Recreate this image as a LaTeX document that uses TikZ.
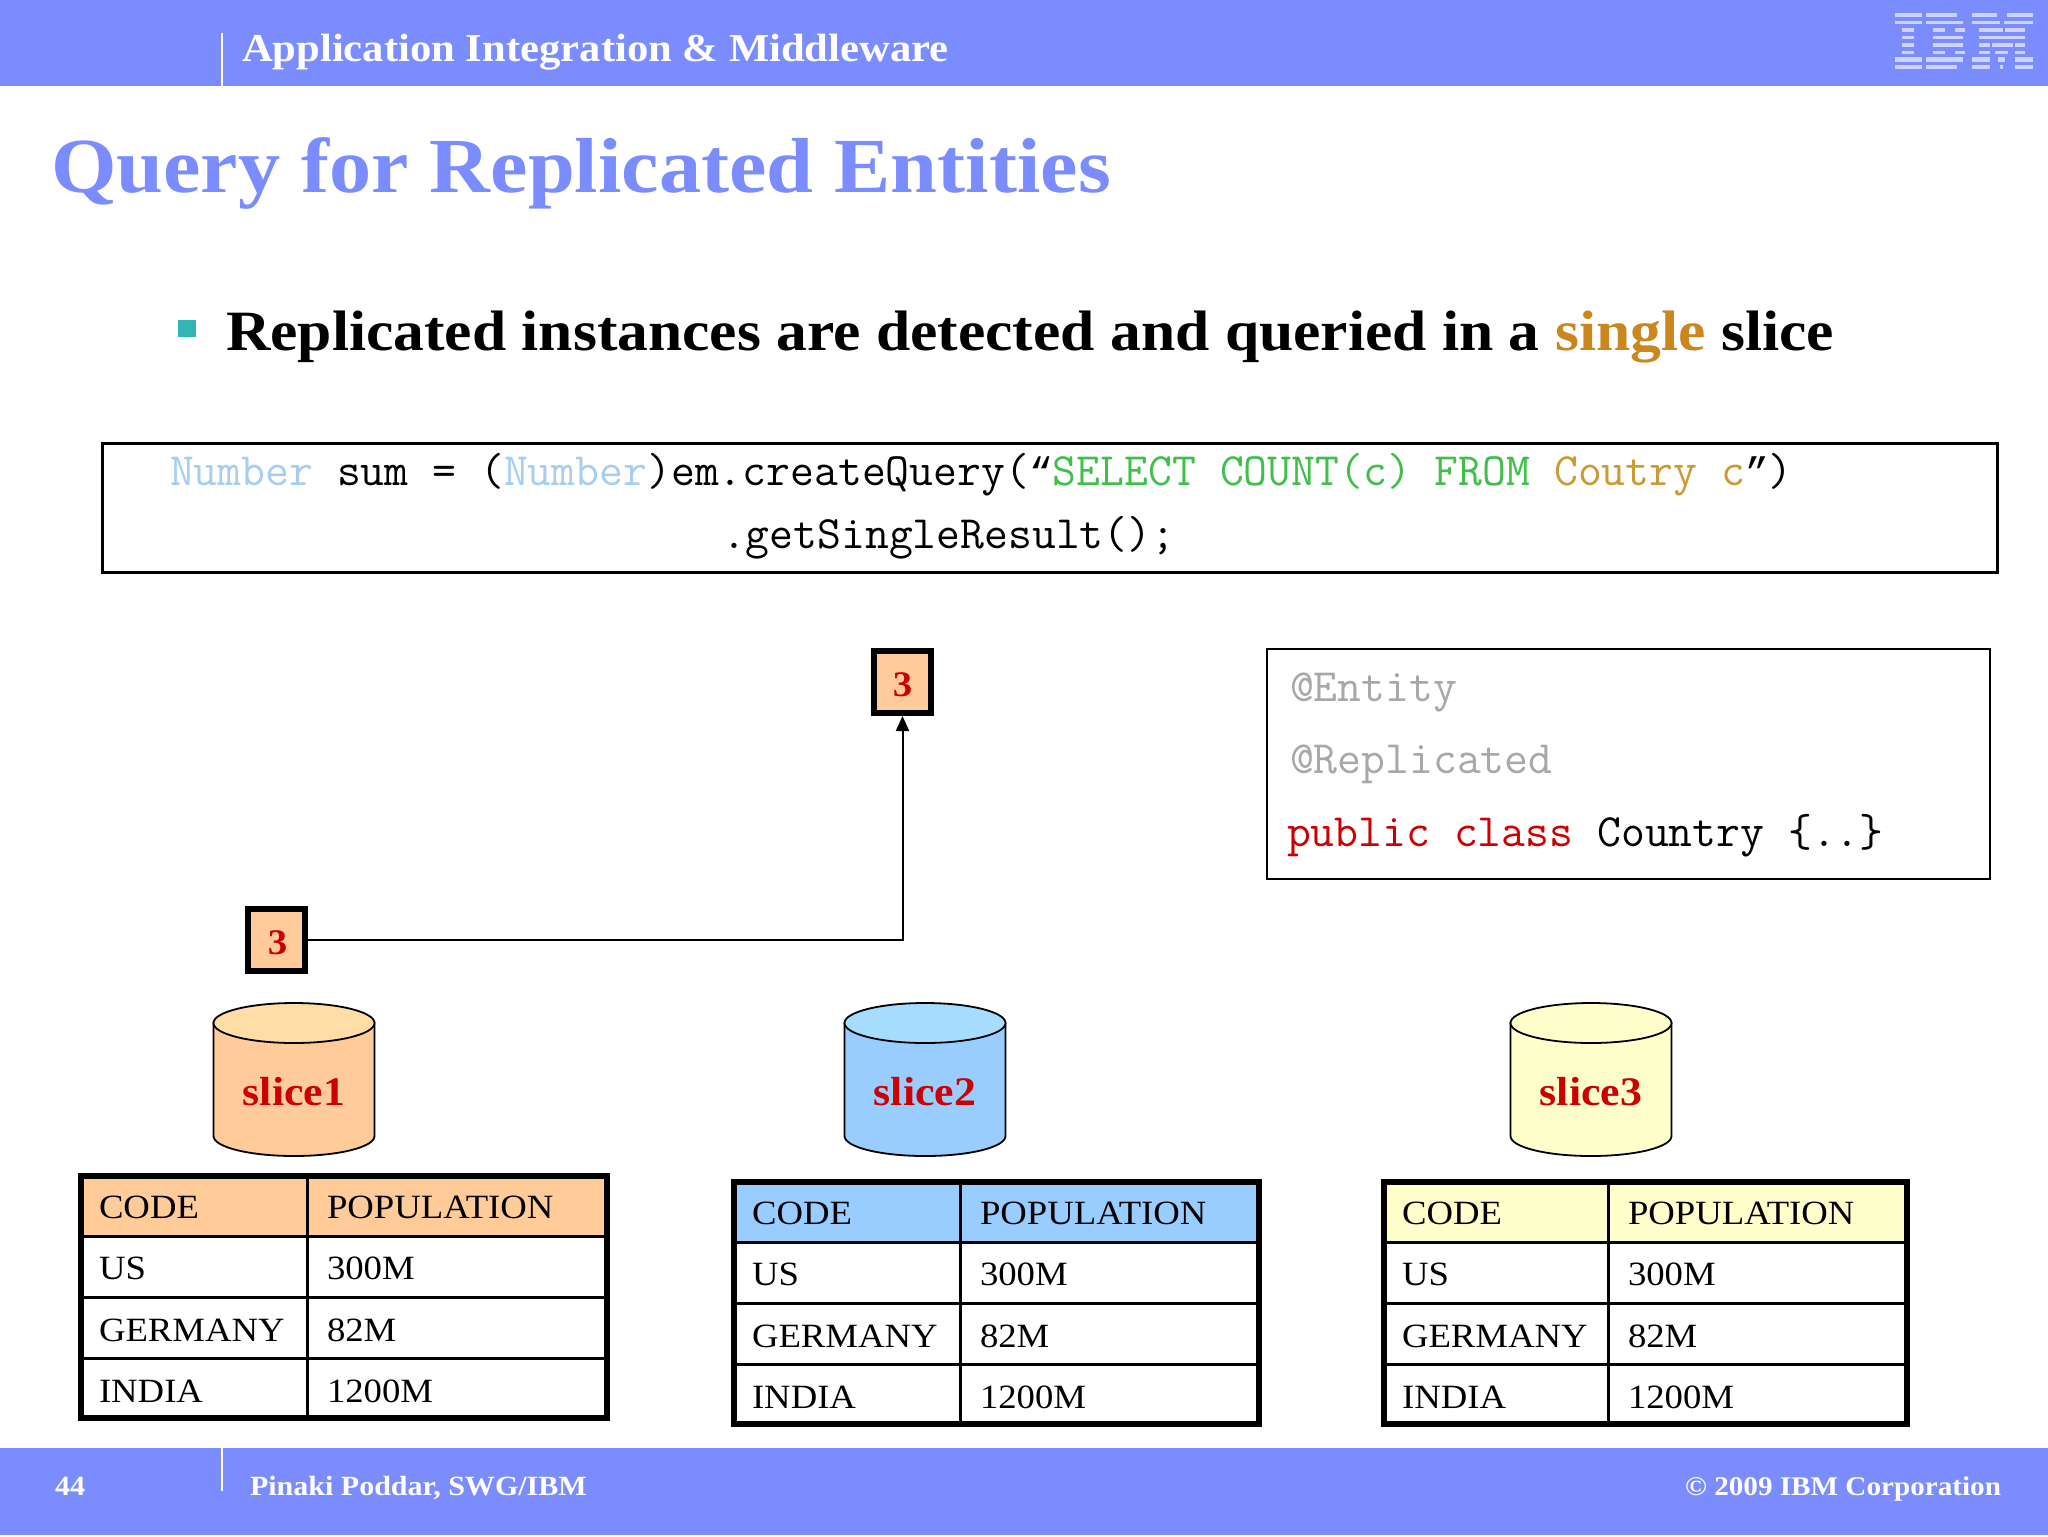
\documentclass[tikz,border=0pt]{standalone}
\usepackage{fontspec}
\setmainfont{Liberation Serif}[FakeStretch=1.08]
\newfontfamily\quotefont{Liberation Mono}
\newcommand{\qmark}[1]{{\quotefont\fontsize{19.85}{26}\selectfont #1}}
\usetikzlibrary{arrows.meta}
\definecolor{band}{HTML}{7B8CFF}
\definecolor{teal}{HTML}{33B5B5}
\definecolor{redtxt}{HTML}{CC0000}
\definecolor{peach}{HTML}{FFCC99}
\definecolor{peachtop}{HTML}{FFDDA6}
\definecolor{sky}{HTML}{99CCFF}
\definecolor{skytop}{HTML}{A6DDFF}
\definecolor{cream}{HTML}{FFFFCC}
\definecolor{logo}{HTML}{CDD5FF}
\definecolor{typeblue}{HTML}{A6CEF2}
\definecolor{sqlgreen}{HTML}{3FC04A}
\definecolor{strorange}{HTML}{CC9A33}
\definecolor{single}{HTML}{CC861E}
\definecolor{anno}{HTML}{A8A8A8}
\tikzset{
  txt/.style={anchor=base west,inner sep=0pt,outer sep=0pt},
  txtr/.style={anchor=base east,inner sep=0pt,outer sep=0pt},
  codetxt/.style={txt,font=\ttfamily\fontsize{23.17}{26}\selectfont},
  headtxt/.style={txt,text=white,font=\bfseries\fontsize{19.75}{24}\selectfont},
  foottxt/.style={text=white,font=\bfseries\fontsize{13.9}{17}\selectfont},
  celltxt/.style={txt,font=\fontsize{17}{20}\selectfont},
  resultbox/.style={draw=black,line width=3pt,fill=peach,minimum width=28.5pt,minimum height=31pt,inner sep=0pt,outer sep=.5\pgflinewidth,text=redtxt,font=\bfseries\fontsize{18}{20}\selectfont},
  slicetxt/.style={text=redtxt,inner sep=0pt,font=\bfseries\fontsize{20.3}{24}\selectfont},
  whiteline/.style={draw=white,line width=1.2pt},
  flow/.style={draw=black,line width=1pt,-{Triangle[length=7.5pt,width=6.5pt]}}
}
\newcommand{\slicedb}[5]{%
  \draw[line width=.9pt,fill=#3] ({#2-80.5},1023) -- ({#2-80.5},1136)
    .. controls ({#2-80.5},1147) and ({#2-45},1156) .. (#2,1156)
    .. controls ({#2+45},1156) and ({#2+80.5},1147) .. ({#2+80.5},1136)
    -- ({#2+80.5},1023) -- cycle;
  \draw[line width=.9pt,fill=#4] (#2,1023) ellipse [x radius=40.25pt,y radius=10pt];
  \node[slicetxt] (#1) at (#2,1092) {#5};
}
\newcommand{\slicetable}[6]{%
  \begin{scope}[shift={(#2,#3)}]
    \fill[#6] (0,0) rectangle (#4,60);
    \draw[line width=1.5pt] (0,60) -- (#4,60) (0,121) -- (#4,121) (0,182) -- (#4,182) (#5,0) -- (#5,242);
    \draw[line width=3pt,line cap=rect] (0,0) rectangle (#4,242);
    \node[celltxt] (#1c) at (18,42.5) {CODE};
    \node[celltxt] (#1p) at ({#5+20},42.5) {POPULATION};
    \node[celltxt] (#1a) at (18,103.5) {US};
    \node[celltxt] (#1b) at ({#5+20},103.5) {300M};
    \node[celltxt] (#1d) at (18,165.5) {GERMANY};
    \node[celltxt] (#1e) at ({#5+20},165.5) {82M};
    \node[celltxt] (#1f) at (18,226.5) {INDIA};
    \node[celltxt] (#1g) at ({#5+20},226.5) {1200M};
  \end{scope}
}
\begin{document}
\begin{tikzpicture}[x=0.5pt,y=-0.5pt]
\useasboundingbox (0,0) rectangle (2048,1536);
\fill[white] (0,0) rectangle (2048,1536);
% bands
\fill[band] (0,0) rectangle (2048,86);
\fill[band] (0,1448) rectangle (2048,1535);
\draw[whiteline] (222,33) -- (222,86);
\draw[whiteline] (222,1448) -- (222,1491);
\node[headtxt] (head) at (242,62) {Application Integration \& Middleware};
% IBM logo stripes
\begin{scope}
\foreach \ya/\yb/\segs in {
 13/17/{1895/1922,1926/1957,1972/1997,2007/2033},
 21/24/{1895/1922,1926/1963,1972/2000,2004/2033},
 28/32/{1902/1914,1933/1945,1955/1965,1979/2003,2005/2025},
 36/39/{1902/1914,1933/1963,1979/2025},
 43/47/{1902/1914,1933/1963,1979/1990,1992/2013,2015/2025},
 51/54/{1902/1914,1933/1945,1955/1965,1979/1990,1995/2008,2015/2025},
 57/62/{1895/1922,1926/1963,1972/1990,1998/2005,2015/2033},
 65/69/{1895/1922,1926/1957,1972/1990,2000/2003,2015/2033}}{
  \foreach \xa/\xb in \segs { \fill[logo] (\xa,\ya) rectangle (\xb,\yb); }
}
\end{scope}
% title and bullet
\node[txt,text=band,font=\bfseries\fontsize{39}{46}\selectfont] (title) at (51,192) {Query for Replicated Entities};
\fill[teal] (178,320) rectangle (196,337);
\node[txt,font=\bfseries\fontsize{28.5}{34}\selectfont] (bullet) at (226,350) {Replicated instances are detected and queried in a \textcolor{single}{single} slice};
% code box
\draw[line width=1.5pt] (102,443) rectangle (1997,572);
\node[codetxt] (code1) at (170,485) {\textcolor{typeblue}{Number} sum = (\textcolor{typeblue}{Number})em.createQuery(\qmark{“}\textcolor{sqlgreen}{SELECT COUNT(c) FROM} \textcolor{strorange}{Coutry c}\qmark{”})};
\node[codetxt] (code2) at (722,548) {.getSingleResult();};
% entity box
\draw[line width=1pt] (1267,649) rectangle (1990,879);
\node[codetxt,text=anno] (ent1) at (1290,701) {@Entity};
\node[codetxt,text=anno] (ent2) at (1290,773) {@Replicated};
\node[codetxt] (ent3) at (1287,846) {\textcolor{redtxt}{public class} Country \{..\}};
% result boxes and connector
\node[resultbox] (res1) at (902.5,682) {\rule{0pt}{15pt}3};
\node[resultbox] (res2) at (276.5,939.5) {\rule{0pt}{15pt}\hspace{1pt}3};
\draw[flow] (res2.east) -| (res1.south);
% slices
\slicedb{s1}{294}{peach}{peachtop}{slice1}
\slicedb{s2}{925}{sky}{skytop}{slice2}
\slicedb{s3}{1591}{cream}{cream}{slice3}
% tables
\slicetable{ta}{81}{1176}{526}{226}{peach}
\slicetable{tb}{734}{1182}{525}{226}{sky}
\slicetable{tc}{1384}{1182}{523}{224}{cream}
% footer
\node[txt,foottxt] (page) at (55,1495) {44};
\node[txt,foottxt] (author) at (250,1495) {Pinaki Poddar, SWG/IBM};
\node[txtr,foottxt,font=\bfseries\fontsize{13.5}{17}\selectfont] (copy) at (2001,1495) {© 2009 IBM Corporation};
\end{tikzpicture}
\end{document}
